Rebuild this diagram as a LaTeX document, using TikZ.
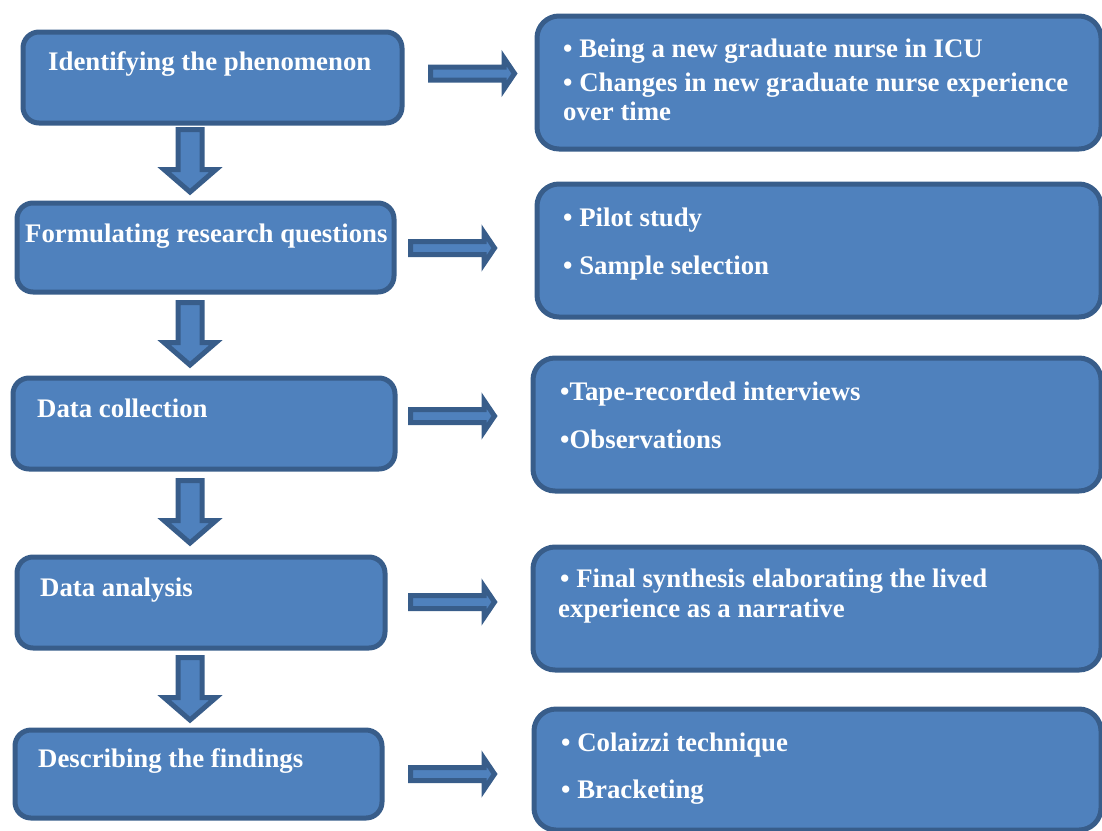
\documentclass[tikz,border=0pt]{standalone}
\usepackage{fontspec}
\setmainfont{Liberation Serif}
\definecolor{boxfill}{HTML}{4F81BD}
\definecolor{boxline}{HTML}{385D8A}
\begin{document}
\begin{tikzpicture}[x=1pt,y=-1pt,
  lbox/.style={draw=boxline, fill=boxfill, line width=5pt, rounded corners=16pt, anchor=north west, inner sep=0pt},
  rbox/.style={draw=boxline, fill=boxfill, line width=5pt, rounded corners=22pt, anchor=north west, inner sep=0pt},
  arr/.style={draw=boxline, fill=boxfill, line width=5pt, line join=miter},
  txt/.style={text=white, font=\bfseries\fontsize{26.8}{30}\selectfont, inner sep=0pt, anchor=base west},
  darrow/.pic={\path[arr] (-12,0) -- (-12,40) -- (-26,40) -- (0,62.5) -- (26,40) -- (12,40) -- (12,0) -- cycle;},
  rarrow/.pic={\path[arr] (0,-6.5) -- (73.5,-6.5) -- (73.5,-15.5) -- (84,0) -- (73.5,15.5) -- (73.5,6.5) -- (0,6.5) -- cycle;}
]
\useasboundingbox (0,0) rectangle (1102,830);
\clip (0,0) rectangle (1102,830);
% left boxes
\node[lbox, minimum width=379pt, minimum height=91pt] (L1) at (20.5,29.5) {};
\node[lbox, minimum width=377pt, minimum height=89pt] (L2) at (14.5,200.5) {};
\node[lbox, minimum width=382pt, minimum height=91pt] (L3) at (10.5,375.5) {};
\node[lbox, minimum width=368pt, minimum height=91pt] (L4) at (14.5,554.5) {};
\node[lbox, minimum width=367pt, minimum height=88pt] (L5) at (12.5,727.5) {};
% right boxes
\node[rbox, minimum width=564pt, minimum height=133pt] (R1) at (534.5,13.5) {};
\node[rbox, minimum width=564pt, minimum height=133pt] (R2) at (534.5,181.5) {};
\node[rbox, minimum width=568pt, minimum height=133pt] (R3) at (530.5,355.5) {};
\node[rbox, minimum width=568pt, minimum height=123pt] (R4) at (530.5,544.5) {};
\node[rbox, minimum width=567pt, minimum height=121pt] (R5) at (531.5,706.5) {};
% left texts
\node[txt] (T1) at (48,70) {Identifying the phenomenon};
\node[txt] (T2) at (25,242) {Formulating research questions};
\node[txt] (T3) at (37,417) {Data collection};
\node[txt] (T4) at (40,596) {Data analysis};
\node[txt] (T5) at (38,767) {Describing the findings};
% right texts
\node[txt] (S1a) at (563,57) {• Being a new graduate nurse in ICU};
\node[txt] (S1b) at (563,91) {• Changes in new graduate nurse experience};
\node[txt] (S1c) at (563,120) {over time};
\node[txt] (S2a) at (563,226) {• Pilot study};
\node[txt] (S2b) at (563,274) {• Sample selection};
\node[txt] (S3a) at (560,400) {•Tape-recorded interviews};
\node[txt] (S3b) at (560,448) {•Observations};
\node[txt] (S4a) at (560,587) {• Final synthesis elaborating the lived};
\node[txt] (S4b) at (558,617) {experience as a narrative};
\node[txt] (S5a) at (561,751) {• Colaizzi technique};
\node[txt] (S5b) at (561,798) {• Bracketing};
% down arrows
\pic at (190,129.5) {darrow};
\pic at (190,302.5) {darrow};
\pic at (190,480.5) {darrow};
\pic at (190,657.5) {darrow};
% right arrows
\pic at (430.5,73.5) {rarrow};
\pic at (410.5,248) {rarrow};
\pic at (410.5,416) {rarrow};
\pic at (410.5,602) {rarrow};
\pic at (410.5,774) {rarrow};
\end{tikzpicture}
\end{document}
